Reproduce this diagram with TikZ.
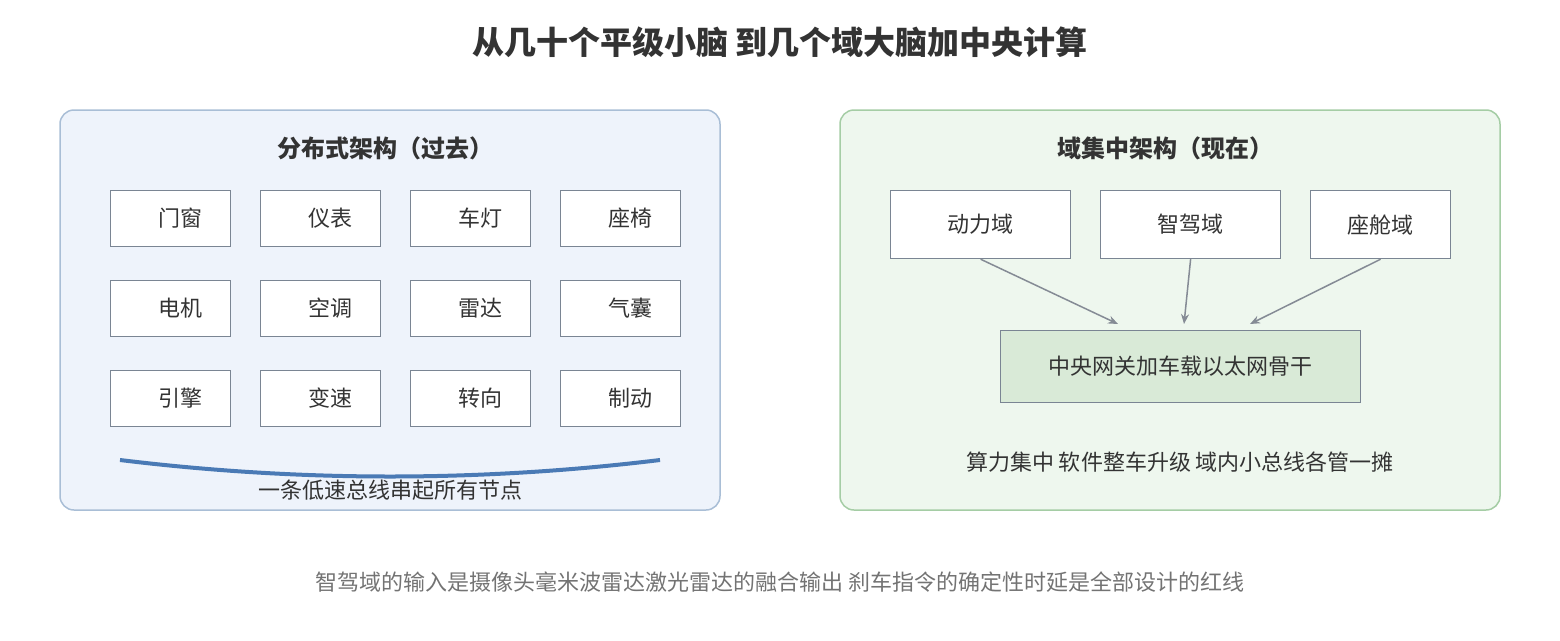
\documentclass[tikz,border=0pt]{standalone}
\usepackage{fontspec}
\setmainfont{Noto Sans CJK SC}
\usetikzlibrary{arrows.meta}
\definecolor{txt}{HTML}{333333}
\definecolor{lfill}{HTML}{EEF3FB}\definecolor{lbord}{HTML}{A9BED6}
\definecolor{rfill}{HTML}{EEF7EE}\definecolor{rbord}{HTML}{A5CDA5}
\definecolor{bbord}{HTML}{7A8593}\definecolor{cfill}{HTML}{D9EAD7}
\definecolor{bus}{HTML}{4A7AB5}\definecolor{arr}{HTML}{858B95}
\begin{document}
\begin{tikzpicture}[x=1pt,y=-1pt,
 panel/.style={draw,line width=1.5pt,rounded corners=14pt},
 sbox/.style={draw=bbord,line width=1.2pt,fill=white,minimum width=120pt,minimum height=56pt,anchor=north west,inner sep=0pt},
 lbl/.style={font=\fontsize{22}{26}\selectfont,text=txt},
 ar/.style={draw=arr,line width=1.5pt,-{Stealth[length=10pt,width=8pt]}}]
\useasboundingbox (0,0) rectangle (1560,640);
\node[font=\fontsize{32}{36}\selectfont\bfseries,text=txt] (title) at (780,42) {从几十个平级小脑 到几个域大脑加中央计算};
\draw[panel,draw=lbord,fill=lfill] (60,110) rectangle (720,510);
\draw[panel,draw=rbord,fill=rfill] (840,110) rectangle (1500,510);
\node[lbl,font=\fontsize{24}{28}\selectfont\bfseries] (lt) at (385,148) {分布式架构（过去）};
\node[lbl,font=\fontsize{24}{28}\selectfont\bfseries] (rt) at (1165,148) {域集中架构（现在）};
\foreach \t [count=\i from 0] in {门窗,仪表,车灯,座椅,电机,空调,雷达,气囊,引擎,变速,转向,制动}{
 \pgfmathtruncatemacro\c{mod(\i,4)}\pgfmathtruncatemacro\r{div(\i,4)}
 \node[sbox] (b\i) at (110+150*\c,190+90*\r) {};
 \node[lbl] (t\i) at (180+150*\c,218+90*\r) {\t};
}
\draw[bus,line width=4pt] (120,460) .. controls (300,482) and (480,482) .. (660,460);
\node[lbl] (busl) at (390,490) {一条低速总线串起所有节点};
\node[sbox,minimum width=180pt,minimum height=68pt] (d1) at (890,190) {};
\node[sbox,minimum width=180pt,minimum height=68pt] (d2) at (1100,190) {};
\node[sbox,minimum width=140pt,minimum height=68pt] (d3) at (1310,190) {};
\node[lbl] at (d1.center) {动力域};
\node[lbl] at (d2.center) {智驾域};
\node[lbl] at (d3.center) {座舱域};
\node[sbox,fill=cfill,minimum width=360pt,minimum height=72pt] (c) at (1000,330) {};
\node[lbl] at (c.center) {中央网关加车载以太网骨干};
\coordinate (e1) at (1118,324);\coordinate (e2) at (1184,324);\coordinate (e3) at (1250,324);
\draw[ar] (d1.south)++(0,0) -- (e1);
\draw[ar] (d2.south) -- (e2);
\draw[ar] (d3.south)++(0,0) -- (e3);
\node[lbl] (rl) at (1180,462) {算力集中 软件整车升级 域内小总线各管一摊};
\node[lbl,text=gray!90!black] (cap) at (780,582) {智驾域的输入是摄像头毫米波雷达激光雷达的融合输出 刹车指令的确定性时延是全部设计的红线};
\end{tikzpicture}
\end{document}
